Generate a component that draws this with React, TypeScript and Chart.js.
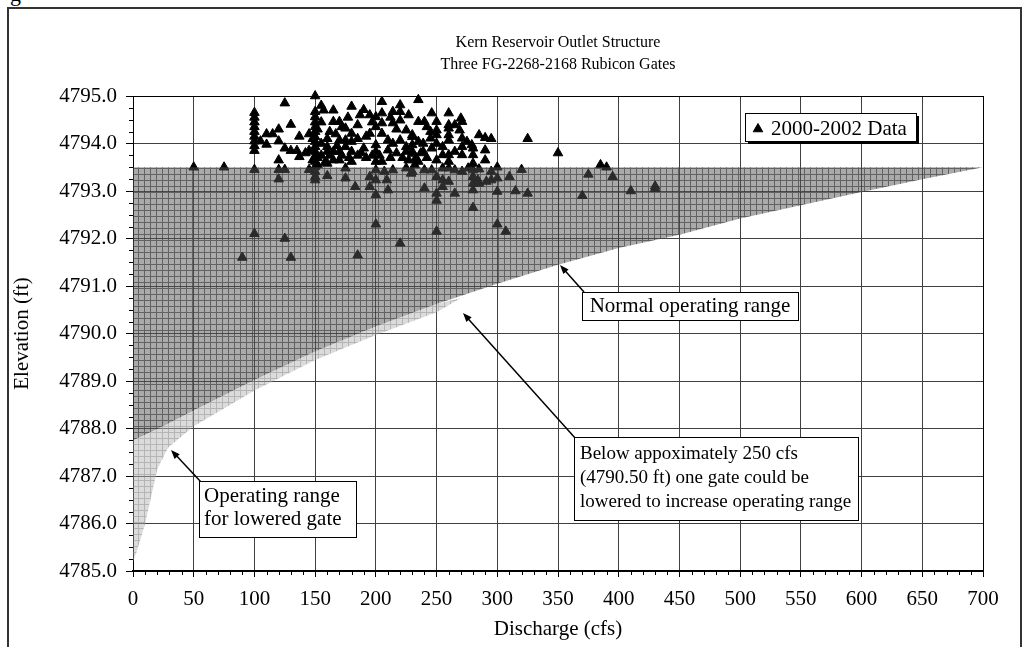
import React, { useEffect, useRef } from "react";
import { Chart, registerables } from "chart.js";

Chart.register(...registerables);

const FONT = '"Liberation Serif", "Times New Roman", Times, serif';

const titleLines = ["Kern Reservoir Outlet Structure", "Three FG-2268-2168 Rubicon Gates"];
const xAxisTitle = "Discharge (cfs)";
const yAxisTitle = "Elevation (ft)";
const legendLabel = "2000-2002 Data";

const xMin = 0;
const xMax = 700;
const xStep = 50;
const xMinorStep = 10;
const yMin = 4785;
const yMax = 4795;
const yStep = 1;
const yMinorStep = 0.25;

// Normal operating range (dark hatched area): top edge and lower curve
const normalRangeX = [0, 25, 50, 100, 150, 200, 250, 300, 350, 400, 450, 500, 550, 600, 650, 700];
const normalRangeLow = [4787.75, 4788.05, 4788.38, 4789.02, 4789.62, 4790.15, 4790.62, 4791.05, 4791.45, 4791.8, 4792.08, 4792.42, 4792.7, 4792.98, 4793.25, 4793.5];
const normalRangeTop = 4793.5;

// Operating range for lowered gate (light hatched area)
const loweredTopX = [0, 25, 50, 100, 150, 200, 250, 270];
const loweredTop = [4787.75, 4788.05, 4788.38, 4789.02, 4789.62, 4790.15, 4790.62, 4790.75];
const loweredLowX = [0, 3, 10, 20, 29, 50, 100, 150, 200, 250, 270];
const loweredLow = [4785.2, 4785.4, 4786.0, 4787.15, 4787.6, 4788.05, 4788.8, 4789.44, 4789.97, 4790.45, 4790.75];

// 2000-2002 observed data
const dischargeCfs = [
  50, 75, 90, 100, 125, 130, 185, 200, 220, 250,
  300, 307, 325, 350, 325, 370, 375, 385, 390, 395,
  410, 430, 430, 315, 320, 310, 280, 265, 250, 250,
  100, 100, 100, 100, 100, 100, 100, 100, 100, 100,
  105, 110, 110, 115, 120, 120, 120, 120, 120, 125,
  125, 125, 130, 130, 135, 137, 137, 145, 145, 145,
  142,
  150, 150, 150, 150, 150, 150, 150, 150, 150, 150, 150, 150, 150, 150, 150, 150,
  155, 157, 160, 160, 160, 160, 160, 165, 165, 165,
  165, 170, 170, 170, 170, 175, 175, 175, 175, 175,
  180, 180, 180, 180, 180, 183, 185, 190, 190, 195,
  195, 195, 195, 200, 200, 200, 200, 200, 200, 200,
  200, 205, 205, 205, 205, 205, 207, 209, 210, 210,
  210, 214, 214, 214, 214, 220, 220, 220, 220, 225,
  225, 225, 225, 230, 230, 230, 230, 230, 230, 229,
  235, 235, 235, 235, 233,
  240, 239, 239, 240, 240, 246, 245, 245, 246, 246,
  250, 250, 250, 250, 250, 250, 255, 255, 255, 255,
  255, 260, 260, 260, 260, 260, 260, 260, 260, 260,
  265, 265, 265, 270, 271, 269, 271, 271, 271, 271,
  275, 276, 279, 280, 280, 280, 280, 280, 280, 280,
  285, 285, 285, 284, 290, 290, 290, 291, 295, 295,
  295, 300, 300, 300,
  152, 155, 158, 162, 168, 172, 178, 185, 188, 192,
  197, 203, 212, 217, 222, 227, 232, 237, 242, 152,
  148, 155, 162, 167, 185, 192, 197, 217, 227, 242,
  212, 187, 177, 172, 148, 152, 155,
];
const elevationFt = [
  4793.5, 4793.5, 4791.6, 4792.1, 4792.0, 4791.6, 4791.65, 4792.3, 4791.9, 4792.15,
  4792.3, 4792.15, 4794.1, 4793.8, 4792.95, 4792.9, 4793.35, 4793.55, 4793.5, 4793.3,
  4793.0, 4793.1, 4793.05, 4793.0, 4793.45, 4793.3, 4792.65, 4792.95, 4792.8, 4792.95,
  4794.65, 4794.55, 4794.45, 4794.35, 4794.25, 4794.15, 4794.05, 4793.95, 4793.85, 4793.45,
  4794.05, 4794.2, 4793.98, 4794.2, 4794.3, 4794.05, 4793.65, 4793.45, 4793.25, 4794.85,
  4793.9, 4793.45, 4794.4, 4793.85, 4793.85, 4794.15, 4793.72, 4794.2, 4793.85, 4793.45,
  4793.8,
  4795.0, 4794.67, 4794.56, 4794.45, 4794.35, 4794.25, 4794.14, 4794.04, 4793.93, 4793.83, 4793.72, 4793.62, 4793.51, 4793.41, 4793.3, 4793.23,
  4794.8, 4794.7, 4794.1, 4793.93, 4793.83, 4793.58, 4793.32, 4794.7, 4794.46, 4793.83,
  4793.65, 4794.46, 4794.07, 4793.83, 4793.65, 4794.32, 4794.07, 4793.93, 4793.48, 4793.27,
  4794.78, 4794.21, 4794.04, 4793.83, 4793.62, 4793.09, 4794.39, 4794.71, 4793.9, 4794.6,
  4794.21, 4793.3, 4793.09, 4794.56, 4794.35, 4793.97, 4793.83, 4793.62, 4793.44, 4793.23,
  4792.92, 4794.88, 4794.64, 4794.43, 4794.21, 4793.62, 4793.41, 4793.23, 4793.02, 4794.07,
  4793.86, 4794.67, 4794.43, 4794.0, 4793.44, 4794.81, 4794.67, 4794.49, 4794.07, 4794.28,
  4793.83, 4793.93, 4793.48, 4794.18, 4793.97, 4793.83, 4793.41, 4794.14, 4793.79, 4793.37,
  4794.92, 4794.46, 4794.04, 4793.62, 4793.7,
  4794.46, 4794.0, 4793.83, 4793.44, 4793.06, 4794.64, 4794.25, 4794.11, 4793.9, 4793.44,
  4794.46, 4794.28, 4794.18, 4794.0, 4793.65, 4793.3, 4793.93, 4793.76, 4793.48, 4793.23,
  4793.09, 4794.64, 4794.39, 4794.32, 4794.18, 4794.07, 4793.62, 4793.76, 4793.48, 4793.2,
  4794.39, 4793.83, 4793.44, 4794.53, 4794.46, 4794.28, 4794.11, 4793.93, 4793.76, 4793.41,
  4794.04, 4793.48, 4793.97, 4793.9, 4793.76, 4793.58, 4793.44, 4793.3, 4793.16, 4793.02,
  4794.18, 4793.46, 4793.16, 4793.23, 4794.12, 4793.86, 4793.65, 4793.2, 4794.1, 4793.41,
  4793.23, 4793.5, 4793.27, 4792.99,
  4793.7, 4793.75, 4793.6, 4793.75, 4793.95, 4793.75, 4793.7, 4793.75, 4793.8, 4793.7,
  4793.75, 4793.75, 4793.7, 4793.8, 4793.7, 4793.65, 4793.55, 4793.8, 4793.7, 4793.55,
  4793.65, 4794.0, 4794.25, 4794.2, 4794.1, 4794.15, 4794.45, 4794.3, 4794.6, 4794.35,
  4794.55, 4794.6, 4794.55, 4794.35, 4794.1, 4794.3, 4794.45,
];

// Text boxes with arrows (pixel layout)
const annotations = [
  {
    lines: ["Normal operating range"],
    font: 21,
    box: { x: 582, y: 292, w: 216, h: 28 },
    textX: 690, align: "center" as CanvasTextAlign, baselines: [312],
    arrow: { x1: 584, y1: 292, x2: 560, y2: 265 },
  },
  {
    lines: ["Below appoximately 250 cfs", "(4790.50 ft) one gate could be", "lowered to increase operating range"],
    font: 19,
    box: { x: 574, y: 437, w: 284, h: 83 },
    textX: 580, align: "left" as CanvasTextAlign, baselines: [459, 483, 507],
    arrow: { x1: 576, y1: 439, x2: 463, y2: 313 },
  },
  {
    lines: ["Operating range", "for lowered gate"],
    font: 21,
    box: { x: 199, y: 481, w: 157, h: 56 },
    textX: 204, align: "left" as CanvasTextAlign, baselines: [502, 525],
    arrow: { x1: 201, y1: 482, x2: 171, y2: 450 },
  },
];

function makePattern(base: string, line: string): CanvasPattern {
  const c = document.createElement("canvas");
  c.width = 6;
  c.height = 6;
  const g = c.getContext("2d")!;
  g.fillStyle = base;
  g.fillRect(0, 0, 6, 6);
  g.fillStyle = line;
  g.fillRect(0, 0, 6, 1);
  g.fillRect(0, 1, 1, 5);
  return g.createPattern(c, "repeat")!;
}

function drawArrow(ctx: CanvasRenderingContext2D, x1: number, y1: number, x2: number, y2: number) {
  const ang = Math.atan2(y2 - y1, x2 - x1);
  const hl = 9;
  const hw = 3.5;
  const c = Math.cos(ang);
  const s = Math.sin(ang);
  ctx.strokeStyle = "#000";
  ctx.fillStyle = "#000";
  ctx.lineWidth = 1.5;
  ctx.beginPath();
  ctx.moveTo(x1, y1);
  ctx.lineTo(x2 - c * hl * 0.7, y2 - s * hl * 0.7);
  ctx.stroke();
  ctx.beginPath();
  ctx.moveTo(x2, y2);
  ctx.lineTo(x2 - hl * c + hw * s, y2 - hl * s - hw * c);
  ctx.lineTo(x2 - hl * c - hw * s, y2 - hl * s + hw * c);
  ctx.closePath();
  ctx.fill();
}

function drawTriangle(ctx: CanvasRenderingContext2D, x: number, y: number, r: number) {
  ctx.beginPath();
  for (let k = 0; k < 3; k++) {
    const a = (k * 2 * Math.PI) / 3;
    const px = x + Math.sin(a) * r;
    const py = y - Math.cos(a) * r;
    if (k === 0) ctx.moveTo(px, py);
    else ctx.lineTo(px, py);
  }
  ctx.closePath();
  ctx.fill();
  ctx.stroke();
}

const minorTicksPlugin = {
  id: "minorTicks",
  afterDraw(chart: any) {
    const { ctx, chartArea } = chart;
    const xs = chart.scales.x;
    const ys = chart.scales.y;
    ctx.save();
    ctx.strokeStyle = "#000";
    ctx.lineWidth = 1;
    ctx.beginPath();
    for (let v = xMin; v <= xMax; v += xMinorStep) {
      if (v % xStep === 0) continue;
      const px = Math.round(xs.getPixelForValue(v)) + 0.5;
      ctx.moveTo(px, chartArea.bottom);
      ctx.lineTo(px, chartArea.bottom + 4);
    }
    for (let i = 0; i <= (yMax - yMin) / yMinorStep; i++) {
      const v = yMin + i * yMinorStep;
      if (Math.abs(v - Math.round(v)) < 1e-6) continue;
      const py = Math.round(ys.getPixelForValue(v)) + 0.5;
      ctx.moveTo(chartArea.left - 4, py);
      ctx.lineTo(chartArea.left, py);
    }
    ctx.stroke();
    ctx.restore();
  },
};

const decorPlugin = {
  id: "decor",
  afterDraw(chart: any) {
    const { ctx, chartArea } = chart;
    ctx.save();
    // titles
    ctx.fillStyle = "#000";
    ctx.textAlign = "center";
    ctx.textBaseline = "alphabetic";
    ctx.font = `16px ${FONT}`;
    const cx = (chartArea.left + chartArea.right) / 2;
    ctx.fillText(titleLines[0], cx, 47);
    ctx.fillText(titleLines[1], cx, 69);

    // legend with drop shadow
    const lx = 745, ly = 113, lw = 171, lh = 28;
    ctx.fillStyle = "#000";
    ctx.fillRect(lx + 3, ly + 3, lw, lh);
    ctx.fillStyle = "#fff";
    ctx.fillRect(lx, ly, lw, lh);
    ctx.strokeStyle = "#000";
    ctx.lineWidth = 1;
    ctx.strokeRect(lx + 0.5, ly + 0.5, lw, lh);
    ctx.fillStyle = "#000";
    drawTriangle(ctx, lx + 13, ly + 16, 5.5);
    ctx.font = `21px ${FONT}`;
    ctx.textAlign = "left";
    ctx.fillText(legendLabel, lx + 26, ly + 22);

    // annotation boxes
    for (const a of annotations) {
      drawArrow(ctx, a.arrow.x1, a.arrow.y1, a.arrow.x2, a.arrow.y2);
      ctx.fillStyle = "#fff";
      ctx.fillRect(a.box.x, a.box.y, a.box.w, a.box.h);
      ctx.strokeStyle = "#000";
      ctx.lineWidth = 1;
      ctx.strokeRect(a.box.x + 0.5, a.box.y + 0.5, a.box.w, a.box.h);
      ctx.fillStyle = "#000";
      ctx.font = `${a.font}px ${FONT}`;
      ctx.textAlign = a.align;
      a.lines.forEach((t, i) => ctx.fillText(t, a.textX, a.baselines[i]));
    }
    ctx.restore();
  },
};

export default function App() {
  const ref = useRef<HTMLCanvasElement>(null);

  useEffect(() => {
    const canvas = ref.current;
    if (!canvas) return;
    const darkPattern = makePattern("rgba(85,85,85,0.5)", "rgba(40,40,40,0.55)");
    const lightPattern = makePattern("rgba(175,175,175,0.45)", "rgba(135,135,135,0.45)");

    const normalPoly = [
      ...normalRangeX.map((x) => ({ x, y: normalRangeTop })),
      ...normalRangeX.map((x, i) => ({ x, y: normalRangeLow[i] })).reverse(),
    ];
    const loweredPoly = [
      ...loweredTopX.map((x, i) => ({ x, y: loweredTop[i] })),
      ...loweredLowX.map((x, i) => ({ x, y: loweredLow[i] })).reverse(),
    ];
    const points = dischargeCfs.map((x, i) => ({ x, y: elevationFt[i] }));

    const tickFont = { family: FONT, size: 21 };

    const chart = new Chart(canvas, {
      type: "scatter",
      data: {
        datasets: [
          {
            type: "line",
            label: "Operating range for lowered gate",
            data: loweredPoly,
            fill: "shape",
            backgroundColor: lightPattern,
            borderColor: "rgba(0,0,0,0)",
            borderWidth: 1,
            pointRadius: 0,
            tension: 0,
            order: 1,
          } as any,
          {
            type: "line",
            label: "Normal operating range",
            data: normalPoly,
            fill: "shape",
            backgroundColor: darkPattern,
            borderColor: "rgba(0,0,0,0)",
            borderWidth: 1,
            pointRadius: 0,
            tension: 0,
            order: 1,
          } as any,
          {
            label: legendLabel,
            data: points,
            pointStyle: "triangle",
            pointRadius: 5.5,
            pointBackgroundColor: "#000",
            pointBorderColor: "#000",
            pointBorderWidth: 1,
            order: 2,
            clip: false,
          } as any,
        ],
      },
      options: {
        responsive: false,
        animation: false,
        devicePixelRatio: 1,
        events: [],
        layout: { padding: { left: 0, top: 96, right: 46, bottom: 0 } },
        plugins: {
          legend: { display: false },
          tooltip: { enabled: false },
          title: { display: false },
        },
        scales: {
          x: {
            type: "linear",
            min: xMin,
            max: xMax,
            ticks: { stepSize: xStep, font: tickFont, color: "#000", padding: 10, maxRotation: 0, autoSkip: false },
            grid: {
              color: (c: any) => (c.tick && c.tick.value === xMax ? "#000" : "#404040"),
              lineWidth: 1,
              drawTicks: true,
              tickLength: 6,
              tickColor: "#000",
            },
            border: { display: true, color: "#000", width: 2 },
            title: { display: true, text: xAxisTitle, font: tickFont, color: "#000", padding: { top: 0, bottom: 5 } },
            afterFit: (s: any) => {
              s.height = 76;
            },
          },
          y: {
            type: "linear",
            min: yMin,
            max: yMax,
            ticks: {
              stepSize: yStep,
              font: tickFont,
              color: "#000",
              padding: 9,
              callback: (v: any) => Number(v).toFixed(1),
            },
            grid: {
              color: (c: any) => (c.tick && c.tick.value === yMax ? "#000" : "#404040"),
              lineWidth: 1,
              drawTicks: true,
              tickLength: 7,
              tickColor: "#000",
            },
            border: { display: true, color: "#000", width: 1 },
            title: { display: true, text: yAxisTitle, font: tickFont, color: "#000", padding: { top: 10, bottom: 0 } },
            afterFit: (s: any) => {
              s.width = 133;
            },
          },
        },
      } as any,
      plugins: [minorTicksPlugin, decorPlugin],
    });

    return () => chart.destroy();
  }, []);

  return (
    <div
      style={{
        position: "fixed",
        left: 0,
        top: 0,
        width: 1029,
        height: 647,
        overflow: "hidden",
        background: "#fff",
      }}
    >
      <div
        style={{
          position: "absolute",
          left: 10,
          top: -17,
          fontFamily: FONT,
          fontSize: 22,
          lineHeight: "22px",
          color: "#000",
        }}
      >
        g
      </div>
      <div
        style={{
          position: "absolute",
          left: 7,
          top: 7,
          width: 1011,
          height: 700,
          borderLeft: "2px solid #333",
          borderTop: "2px solid #333",
          borderRight: "2px solid #333",
        }}
      />
      <canvas ref={ref} width={1029} height={647} style={{ position: "absolute", left: 0, top: 0, display: "block" }} />
    </div>
  );
}
